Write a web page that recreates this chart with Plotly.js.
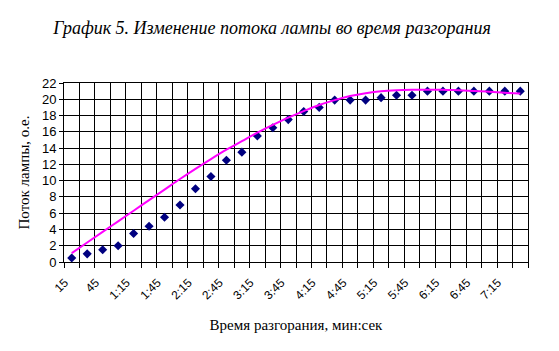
<!DOCTYPE html>
<html>
<head>
<meta charset="utf-8">
<script src="https://cdn.plot.ly/plotly-3.0.1.min.js"></script>
<style>html,body{margin:0;padding:0;background:#fff;}#chart{width:559px;height:351px;}</style>
</head>
<body>
<div id="chart"></div>
<script>
// Categories: time of warm-up, every 15 s (label shown every other)
var categories = ['15','30','45','1:00','1:15','1:30','1:45','2:00','2:15','2:30',
  '2:45','3:00','3:15','3:30','3:45','4:00','4:15','4:30','4:45','5:00',
  '5:15','5:30','5:45','6:00','6:15','6:30','6:45','7:00','7:15','7:30'];
// Measured lamp flux, p.u.
var fluxValues = [0.5,1.0,1.5,2.0,3.5,4.4,5.5,7.0,9.0,10.5,
  12.5,13.5,15.5,16.5,17.5,18.5,19.0,19.9,19.9,19.9,
  20.2,20.5,20.5,21.0,21.0,21.0,21.0,21.0,21.0,21.0];
// Trend line (polynomial trendline)
var trendValues = [1.1,2.4,3.7,5.0,6.3,7.6,8.9,10.2,11.45,12.65,
  13.8,14.85,15.9,16.85,17.75,18.55,19.3,19.9,20.4,20.75,
  21.0,21.12,21.17,21.18,21.17,21.1,21.03,20.93,20.8,20.7];
var shownLabels = ['15','45','1:15','1:45','2:15','2:45','3:15','3:45','4:15','4:45','5:15','5:45','6:15','6:45','7:15'];

var xIdx = categories.map(function(c, i){ return i + 1; });
var tickVals = [], tickText = [];
categories.forEach(function(c, i){
  if (shownLabels.indexOf(c) >= 0) { tickVals.push(i + 1); tickText.push(c); }
});

var data = [
  {x: xIdx, y: fluxValues, type: 'scatter', mode: 'markers',
   marker: {symbol: 'diamond', size: 7, color: '#000080'}, hoverinfo: 'y'},
  {x: xIdx, y: trendValues, type: 'scatter', mode: 'lines',
   line: {color: '#FF00FF', width: 2, shape: 'spline'}, hoverinfo: 'y'}
];

var layout = {
  width: 559, height: 351,
  paper_bgcolor: '#ffffff', plot_bgcolor: '#ffffff',
  showlegend: false,
  margin: {l: 64, r: 31, t: 83, b: 89},
  title: {text: 'График 5. Изменение потока лампы во время разгорания',
    font: {family: '"Liberation Serif", "Times New Roman", serif', size: 18, color: '#000', style: 'italic'},
    x: 272/559, xanchor: 'center', y: 1 - 28/351, yanchor: 'middle'},
  xaxis: {
    range: [0.5, 30.5], showgrid: false, zeroline: false,
    tickmode: 'array', tickvals: tickVals, ticktext: tickText,
    tickangle: -45, ticks: '', ticklabelstandoff: 8, ticklabelshift: -7,
    tickfont: {family: '"Liberation Sans", Arial, sans-serif', size: 12, color: '#000'},
    showline: true, linecolor: '#000', linewidth: 1, mirror: true,
    minor: {tick0: 0.5, dtick: 1, showgrid: true, gridcolor: '#000', gridwidth: 1,
      ticks: 'outside', ticklen: 5, tickcolor: '#000', tickwidth: 1},
    title: {text: 'Время разгорания, мин:сек', standoff: 18,
      font: {family: '"Liberation Serif", "Times New Roman", serif', size: 15, color: '#000'}}
  },
  yaxis: {
    range: [0, 22], dtick: 2, tick0: 0, showgrid: true, gridcolor: '#000', gridwidth: 1,
    zeroline: false, ticks: 'outside', ticklen: 4, tickcolor: '#000',
    showline: true, linecolor: '#000', linewidth: 1, mirror: true,
    tickfont: {family: '"Liberation Sans", Arial, sans-serif', size: 13, color: '#000'},
    title: {text: 'Поток лампы, о.е.', standoff: 8,
      font: {family: '"Liberation Serif", "Times New Roman", serif', size: 15, color: '#000'}}
  }
};

Plotly.newPlot('chart', data, layout, {staticPlot: true, displayModeBar: false});
</script>
</body>
</html>
